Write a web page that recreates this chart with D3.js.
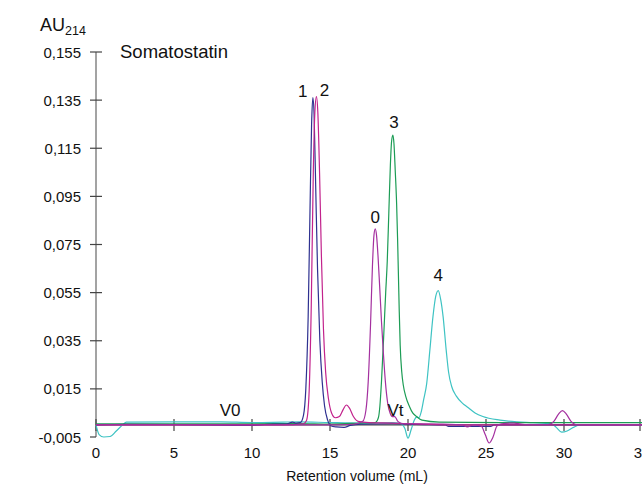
<!DOCTYPE html>
<html>
<head>
<meta charset="utf-8">
<script src="https://cdn.jsdelivr.net/npm/d3@7/dist/d3.min.js"></script>
<style>
  html, body { margin: 0; padding: 0; background: #fff; }
  svg { display: block; font-family: "Liberation Sans", Arial, Helvetica, sans-serif; }
</style>
</head>
<body>
<svg id="chart" width="642" height="488"></svg>
<script>
// Size-exclusion chromatograms of somatostatin samples, absorbance at 214 nm
// Each trace: [retention volume (mL), absorbance (AU)]
const trace0 = [
  [0,0],[5,0],[10,0],[15,0],[16.5,0.0003],[17.1,0.0015],[17.3,0.006],[17.45,0.018],
  [17.6,0.042],[17.72,0.066],[17.82,0.079],[17.9,0.0815],[17.98,0.079],[18.08,0.07],
  [18.18,0.058],[18.3,0.043],[18.42,0.03],[18.55,0.018],[18.7,0.009],[18.85,0.005],
  [19.0,0.0035],[19.15,0.0035],[19.35,0.0015],[19.7,0.0005],[21,0.0005],[23.5,0],
  [23.8,-0.0008],[24.2,0],[24.7,-0.0005],[24.95,-0.004],[25.2,-0.0075],[25.45,-0.005],
  [25.7,-0.0005],[26,0.0005],[26.8,0.0008],[27.5,0.0002],[29.0,0.0002],[29.35,0.0015],
  [29.65,0.0045],[29.9,0.006],[30.15,0.0045],[30.45,0.0015],[30.75,0.0002],[31.5,0],[35,0]
];
const trace1 = [
  [0,0],[2,0.0003],[5,0.0002],[10,-0.0002],[11,0.0003],[12.2,0.0004],[12.6,0.0012],
  [12.8,0.0008],[13.1,0.001],[13.3,0.004],[13.45,0.015],[13.6,0.045],[13.72,0.09],
  [13.82,0.125],[13.9,0.136],[13.98,0.129],[14.08,0.1],[14.2,0.065],[14.35,0.035],
  [14.5,0.018],[14.65,0.008],[14.85,0.002],[15.05,-0.0003],[15.4,-0.0008],[15.9,-0.001],
  [16.3,-0.0002],[17,0.0003],[19,0.0005],[20.5,0.0002],[22.4,0],[22.6,-0.0006],
  [25.3,-0.0006],[25.5,0],[27,0],[35,0]
];
const trace2 = [
  [0,0],[5,0],[10,0],[12,0],[13.3,0.0005],[13.5,0.002],[13.65,0.012],[13.8,0.05],
  [13.93,0.105],[14.03,0.13],[14.13,0.1365],[14.22,0.13],[14.33,0.105],[14.45,0.07],
  [14.58,0.04],[14.72,0.022],[14.9,0.011],[15.1,0.005],[15.35,0.003],[15.6,0.0035],
  [15.85,0.0065],[16.05,0.0083],[16.25,0.007],[16.5,0.0035],[16.8,0.0015],[17.5,0.001],
  [19,0.0008],[21,0.0003],[23,0],[35,0]
];
const trace3 = [
  [0,0.0005],[5,0.0005],[10,0.0005],[13,0.0006],[15,0.0004],[17,0.0008],[17.9,0.001],
  [18.1,0.003],[18.2,0.008],[18.3,0.018],[18.45,0.038],[18.57,0.055],[18.67,0.068],
  [18.77,0.088],[18.87,0.108],[18.95,0.118],[19.03,0.1205],[19.1,0.117],[19.18,0.106],
  [19.27,0.092],[19.33,0.078],[19.38,0.064],[19.44,0.047],[19.5,0.033],[19.6,0.022],
  [19.7,0.0165],[19.85,0.012],[20.1,0.0076],[20.3,0.005],[20.55,0.0035],[20.9,0.002],
  [22,0.0012],[26,0.001],[30,0.001],[35,0.001]
];
const trace4 = [
  [0,0],[0.2,-0.004],[0.5,-0.005],[0.9,-0.0048],[1.3,-0.0025],[1.7,0],[1.95,0.0012],
  [5,0.0013],[8,0.0013],[10,0.001],[12,0.0012],[13,0.0013],[15,0.001],[17,0.0008],
  [19,0.001],[19.5,0.0008],[19.8,-0.0015],[20.0,-0.0055],[20.2,-0.002],[20.4,0.002],
  [20.55,0.0033],[20.7,0.003],[20.85,0.0055],[21.0,0.0104],[21.2,0.0173],[21.4,0.031],
  [21.6,0.045],[21.78,0.0535],[21.94,0.0558],[22.1,0.052],[22.25,0.045],[22.45,0.031],
  [22.6,0.022],[22.8,0.016],[23.1,0.012],[23.5,0.009],[23.8,0.0075],[24.3,0.005],
  [24.8,0.0035],[25.9,0.002],[27,0.0013],[28,0.001],[29.2,0.0005],[29.5,-0.001],
  [29.85,-0.003],[30.2,-0.0025],[30.6,-0.001],[31,0],[35,0]
];

const traceNames  = ["0", "1", "2", "3", "4"];
const traceColors = ["#a4309f", "#2e3190", "#c2228c", "#1c9c55", "#3ec3c3"];
const xTicks = [0, 5, 10, 15, 20, 25, 30, 35];
const yTicks = [-0.005, 0.015, 0.035, 0.055, 0.075, 0.095, 0.115, 0.135, 0.155];
const markers = [{ text: "V0", x: 8.6 }, { text: "Vt", x: 19.2 }];

const traces = [trace0, trace1, trace2, trace3, trace4];

const svg = d3.select("#chart");
const x = d3.scaleLinear().domain([0, 35]).range([96, 642]);
const y = d3.scaleLinear().domain([-0.005, 0.155]).range([437, 52]);
// decimal comma and a plain hyphen for negatives
const fmt = v => d3.format(".3f")(v).replace(".", ",").replace("\u2212", "-");
const axisColor = "#444";

// y axis: line with ticks crossing it
const yAxis = svg.append("g");
yAxis.append("line")
  .attr("x1", x(0)).attr("x2", x(0))
  .attr("y1", y(0.155)).attr("y2", y(-0.005))
  .attr("stroke", "#666").attr("stroke-width", 1.2);
yAxis.selectAll("line.tick").data(yTicks).join("line")
  .attr("class", "tick")
  .attr("x1", d => x(0) - 6).attr("x2", d => d === yTicks[0] ? x(0) : x(0) + 6)
  .attr("y1", d => y(d)).attr("y2", d => y(d))
  .attr("stroke", axisColor).attr("stroke-width", 1.2);
yAxis.selectAll("text").data(yTicks).join("text")
  .attr("x", x(0) - 15).attr("y", d => y(d) + 5.5)
  .attr("text-anchor", "end").attr("font-size", 15).attr("fill", "#111")
  .text(fmt);

// x axis along zero absorbance
const xAxis = svg.append("g");
xAxis.append("line")
  .attr("x1", x(0)).attr("x2", x(35) - 2)
  .attr("y1", y(0)).attr("y2", y(0))
  .attr("stroke", axisColor).attr("stroke-width", 1.2);
xAxis.selectAll("line.tick").data(xTicks).join("line")
  .attr("class", "tick")
  .attr("x1", d => d === 35 ? x(d) - 2 : x(d)).attr("x2", d => d === 35 ? x(d) - 2 : x(d))
  .attr("y1", y(0) - 6).attr("y2", y(0) + 6)
  .attr("stroke", axisColor).attr("stroke-width", 1.2);
xAxis.selectAll("text").data(xTicks).join("text")
  .attr("x", d => x(d)).attr("y", 458)
  .attr("text-anchor", "middle").attr("font-size", 15).attr("fill", "#111")
  .text(d => d);

svg.append("text")
  .attr("x", 357).attr("y", 481)
  .attr("text-anchor", "middle").attr("font-size", 14).attr("fill", "#111")
  .text("Retention volume (mL)");

// y axis unit
const unit = svg.append("text").attr("x", 40).attr("y", 30.5).attr("fill", "#111");
unit.append("tspan").attr("font-size", 18).text("AU");
unit.append("tspan").attr("font-size", 12.5).attr("dy", 4).text("214");

svg.append("text")
  .attr("x", 120).attr("y", 58).attr("font-size", 18.5).attr("fill", "#111")
  .text("Somatostatin");

// chromatogram traces
const line = d3.line()
  .x(d => x(d[0])).y(d => y(d[1]))
  .curve(d3.curveMonotoneX);

const drawOrder = [4, 3, 1, 2, 0];
svg.append("g").selectAll("path").data(drawOrder).join("path")
  .attr("d", i => line(traces[i]))
  .attr("fill", "none")
  .attr("stroke", i => traceColors[i])
  .attr("stroke-width", 1.2)
  .attr("stroke-linejoin", "round");

// peak labels above each trace maximum
const labelOffset = { "0": [0, -6], "1": [-10, -1], "2": [8, -1], "3": [1, -7], "4": [0, -10] };
svg.append("g").selectAll("text").data(traces.map((t, i) => {
  const peak = t.reduce((a, b) => (b[1] > a[1] ? b : a));
  return { name: traceNames[i], v: peak[0], a: peak[1] };
})).join("text")
  .attr("x", d => x(d.v) + labelOffset[d.name][0])
  .attr("y", d => y(d.a) + labelOffset[d.name][1])
  .attr("text-anchor", "middle").attr("font-size", 17).attr("fill", "#111")
  .text(d => d.name);

// void and total volume markers
svg.append("g").selectAll("text").data(markers).join("text")
  .attr("x", d => x(d.x)).attr("y", 416)
  .attr("text-anchor", "middle").attr("font-size", 17).attr("fill", "#111")
  .text(d => d.text);
</script>
</body>
</html>
